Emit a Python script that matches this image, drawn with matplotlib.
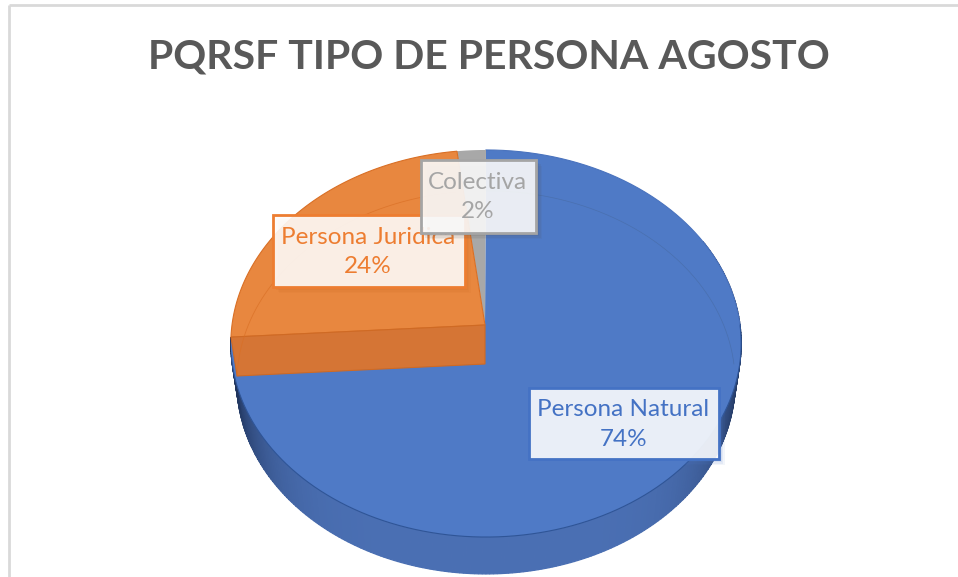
import numpy as np
import matplotlib
matplotlib.use("Agg")
import matplotlib.pyplot as plt
from matplotlib.patches import Polygon, Rectangle
from matplotlib.colors import to_rgb

title = "PQRSF TIPO DE PERSONA AGOSTO"
categories = ["Persona Natural", "Persona Juridica", "Colectiva"]
values = [74, 24, 2]
colors = ["#4F7AC6", "#E8873F", "#A8A8A8"]
text_colors = ["#4472C4", "#ED7D31", "#A5A5A5"]

W, H = 958, 577
plt.rcParams["font.family"] = ["Lato", "DejaVu Sans"]
fig = plt.figure(figsize=(W / 100, H / 100), dpi=100, facecolor="white")
ax = fig.add_axes([0, 0, 1, 1])
ax.set_xlim(0, W)
ax.set_ylim(H, 0)
ax.axis("off")

# chart frame (only top and left edges fall inside the crop)
ax.plot([9, 9], [5, H], color="#D9D9D9", lw=2, solid_capstyle="butt")
ax.plot([9, W], [5, 5], color="#D9D9D9", lw=2, solid_capstyle="butt")

ax.text(489, 57, title, ha="center", va="center", fontsize=29.5, fontweight="bold", color="#595959")

# perspective projection of the pie disc
CX, APEX_Y, RX = 486.0, 325.0, 254.0
C, A = 0.0956, -160.7
LOW_DY, LOW_SX, LOW_SY = 39.0, 0.976, 0.99


def upper(t):
    u, v = np.sin(t), np.cos(t)
    d = 1 + C * v
    return CX + RX * u / d, (A * v + APEX_Y) / d


def lower(t):
    x, y = upper(t)
    return CX + LOW_SX * (x - CX), APEX_Y + LOW_DY + LOW_SY * (y - APEX_Y)


def arc(fn, a, b, n=300):
    x, y = fn(np.linspace(a, b, n))
    return np.column_stack([x, y])


edges = np.radians(np.cumsum([0] + values) * 3.6)
apex_up = np.array([[CX - 1, APEX_Y]])
apex_low = np.array([[CX - 1, APEX_Y + LOW_DY]])

# side wall with angular shading
ts = np.linspace(np.pi * 0.35, edges[1], 260)
dark = np.array(to_rgb("#1E3157"))
mid = np.array(to_rgb("#4A6FB3"))
for t0, t1 in zip(ts[:-1], ts[1:]):
    tm = (t0 + t1) / 2
    k = np.clip(abs(np.sin(tm)) ** 6, 0, 1)
    col = mid * (1 - k) + dark * k
    quad = np.vstack([arc(upper, t0, t1, 3), arc(lower, t1, t0, 3)])
    ax.add_patch(Polygon(quad, closed=True, fc=col, ec=col, lw=0.9, zorder=2))

# top faces
blue = np.vstack([apex_up, arc(upper, edges[0], edges[1])])
ax.add_patch(Polygon(blue, closed=True, fc=colors[0], ec="none", zorder=3))
ax.plot(*arc(upper, np.pi * 0.5, np.pi * 1.45).T, color="#2F5597", lw=0.8, zorder=3.1)
ax.plot(*arc(upper, 0, np.pi * 0.5).T, color="#4A73BE", lw=0.8, zorder=3.1)

gray = np.vstack([apex_up, arc(upper, edges[2], edges[3])])
ax.add_patch(Polygon(gray, closed=True, fc=colors[2], ec="none", zorder=3.2))

orange = np.vstack([apex_up, arc(upper, edges[1], edges[2])])
ax.add_patch(Polygon(orange, closed=True, fc=colors[1], ec="#D96F25", lw=0.8, zorder=3.3))

# front face of the orange slice
wall = np.vstack([upper(edges[1]), apex_up[0], apex_low[0], lower(edges[1])])
ax.add_patch(Polygon(wall, closed=True, fc="#D57535", ec="#CF6A24", lw=0.8, zorder=3.4))

# faint far rim seen through the disc
ax.plot(*arc(lower, edges[0], np.pi * 0.5).T, color="#46699F", lw=0.5, alpha=0.6, zorder=3.5)
ax.plot(*arc(lower, edges[1], edges[2]).T, color="#D96F25", lw=0.6, alpha=0.7, zorder=3.5)

# data labels: left, top, right, bottom, fill alpha, draw order
boxes = [(529.5, 387.5, 719, 459, 0.88, 6),
         (273.5, 214.5, 465, 287, 0.88, 7),
         (421, 159.5, 536.5, 233, 0.88, 8)]
shadow_rgb = [colors[0], "#C8661F", "#555555"]
for i, (l, tp, r, b, alpha, z) in enumerate(boxes):
    for off, al in zip((6, 4.5, 3, 1.5), (0.07, 0.09, 0.1, 0.12)):
        ax.add_patch(Rectangle((l + off, tp + off), r - l, b - tp, fc=shadow_rgb[i], ec="none",
                               alpha=al, zorder=z))
    ax.add_patch(Rectangle((l, tp), r - l, b - tp, fc="white", ec="none", alpha=alpha, zorder=z + 0.1))
    ax.add_patch(Rectangle((l, tp), r - l, b - tp, fill=False, ec=text_colors[i], lw=2.0, zorder=z + 0.2))
    ax.text((l + r) / 2 - 1, (tp + b) / 2 + 1, f"{categories[i]}\n{values[i]}%", ha="center", va="center",
            fontsize=17.5, color=text_colors[i], linespacing=1.5, zorder=z + 0.3)

fig.savefig("out.png", dpi=100, facecolor="white")
